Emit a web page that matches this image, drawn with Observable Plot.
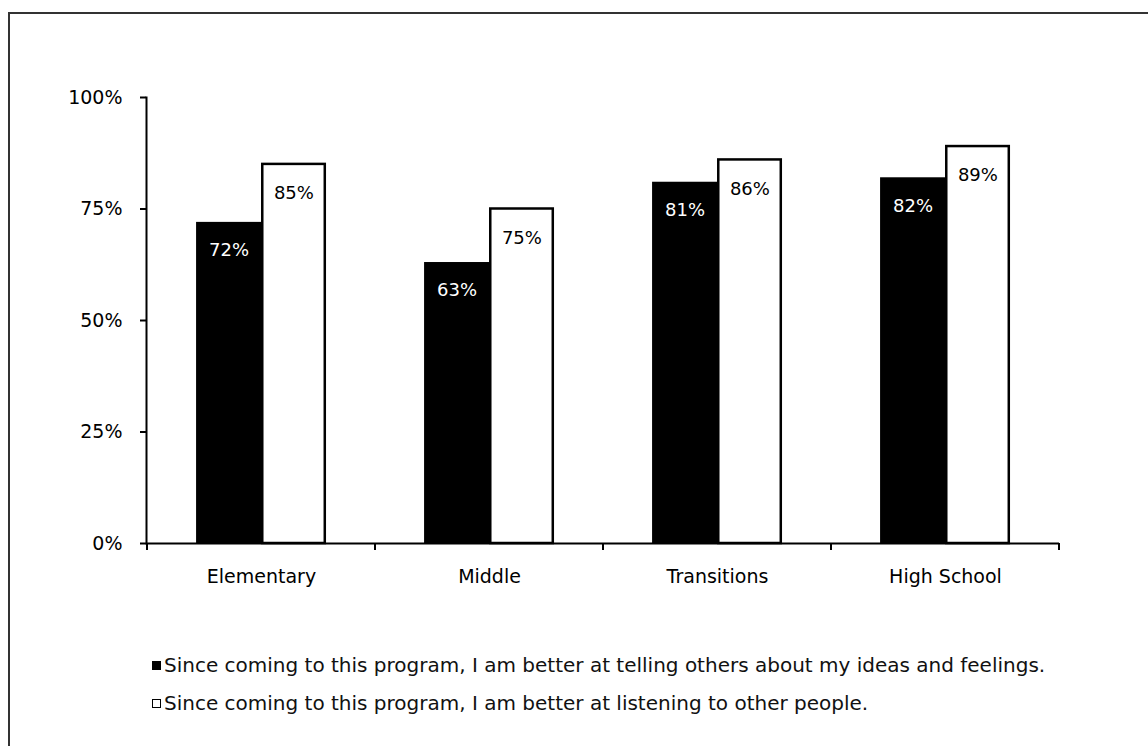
<!DOCTYPE html>
<html><head><meta charset="utf-8">
<script src="https://cdn.jsdelivr.net/npm/d3@7"></script>
<script src="https://cdn.jsdelivr.net/npm/@observablehq/plot@0.6"></script>
<style>
body{margin:0;background:#fff;font-family:"DejaVu Sans",sans-serif;}
#wrap{position:relative;width:1148px;height:746px;overflow:hidden;}
#border{position:absolute;left:8px;top:12px;right:-10px;bottom:-10px;border-top:2px solid #333;border-left:2px solid #333;}
#chart{position:absolute;left:0;top:0;}
#legend{position:absolute;left:152px;top:646px;font-size:20px;color:#111;}
.item{display:flex;align-items:center;height:38px;white-space:nowrap;}
.sw{width:7px;height:7px;border:1.5px solid #000;margin-right:3px;}
</style></head><body>
<div id="wrap"><div id="border"></div><div id="chart"></div><div id="legend"></div></div>
<script>
const categories = ["Elementary", "Middle", "Transitions", "High School"];
const seriesNames = [
  "Since coming to this program, I am better at telling others about my ideas and feelings.",
  "Since coming to this program, I am better at listening to other people."
];
const tellingValues = [72, 63, 81, 82];
const listeningValues = [85, 75, 86, 89];
const yTicks = [0, 25, 50, 75, 100];

const W = 1148, H = 600, ML = 146, MR = 89, MT = 97, MB = 57;
const bw = (W - ML - MR) / categories.length;

const telling = categories.map((c, i) => ({category: c, value: tellingValues[i]}));
const listening = categories.map((c, i) => ({category: c, value: listeningValues[i]}));

function boundaryTicks(index, scales, values, dims) {
  const x = scales.x;
  const b = x.bandwidth ? x.bandwidth() : bw;
  const xs = categories.map(c => x(c)).concat([x(categories[categories.length - 1]) + b]);
  const y0 = scales.y(0);
  const g = d3.create("svg:g").attr("stroke", "#000").attr("stroke-width", 2);
  xs.forEach(v => g.append("line").attr("x1", v).attr("x2", v).attr("y1", y0).attr("y2", y0 + 7));
  return g.node();
}

const chart = Plot.plot({
  width: W, height: H,
  marginLeft: ML, marginRight: MR, marginTop: MT, marginBottom: MB,
  style: {fontFamily: "'DejaVu Sans', sans-serif", color: "#000", background: "transparent"},
  x: {type: "band", domain: categories, padding: 0},
  y: {domain: [0, 100]},
  marks: [
    Plot.barY(telling, {x: "category", y: "value", fill: "#000",
      insetLeft: 0.215 * bw, insetRight: (1 - 0.505) * bw}),
    Plot.barY(listening, {x: "category", y: "value", fill: "#fff", stroke: "#000", strokeWidth: 2.5,
      insetLeft: 0.505 * bw, insetRight: (1 - 0.78) * bw}),
    Plot.text(telling, {x: "category", y: "value", text: d => d.value + "%", fill: "#fff",
      dx: -0.142 * bw, dy: 28, fontSize: 18}),
    Plot.text(listening, {x: "category", y: "value", text: d => d.value + "%", fill: "#000",
      dx: 0.142 * bw, dy: 29, fontSize: 18}),
    Plot.frame({anchor: "left", stroke: "#000", strokeWidth: 2}),
    Plot.ruleY([0], {stroke: "#000", strokeWidth: 2}),
    Plot.axisY({ticks: yTicks, tickFormat: d => d + "%", tickSize: 6, tickPadding: 18, fontSize: 19, label: null, strokeWidth: 2}),
    Plot.axisX({tickSize: 0, tickPadding: 26, fontSize: 19, label: null}),
    boundaryTicks
  ]
});
document.getElementById("chart").appendChild(chart);

const legend = document.getElementById("legend");
seriesNames.forEach((name, i) => {
  const item = document.createElement("div");
  item.className = "item";
  const sw = document.createElement("span");
  sw.className = "sw";
  sw.style.background = i === 0 ? "#000" : "#fff";
  const t = document.createElement("span");
  t.textContent = name;
  item.appendChild(sw); item.appendChild(t);
  legend.appendChild(item);
});
</script>
</body></html>
